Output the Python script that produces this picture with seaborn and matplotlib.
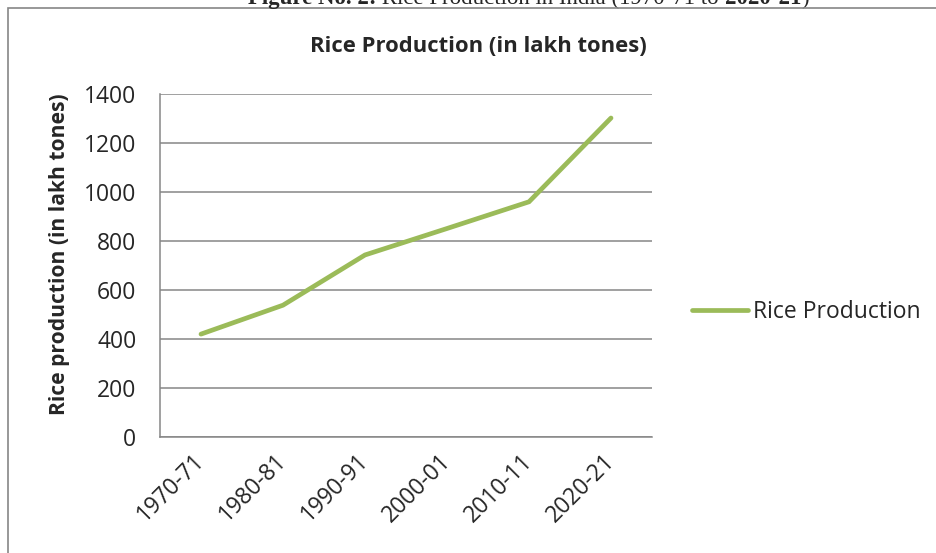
import matplotlib
matplotlib.use("Agg")
import matplotlib.pyplot as plt
import seaborn as sns
import pandas as pd
from matplotlib.patches import Rectangle

years = ["1970-71", "1980-81", "1990-91", "2000-01", "2010-11", "2020-21"]
production = [420, 538, 743, 851, 960, 1302]
series_name = "Rice Production"
y_ticks = [0, 200, 400, 600, 800, 1000, 1200, 1400]

df = pd.DataFrame({"Year": years, "Production": production, "Series": series_name})

sns.set_style("white")
plt.rcParams["font.family"] = ["Open Sans", "DejaVu Sans"]

W, H = 936, 553
fig = plt.figure(figsize=(W / 100, H / 100), dpi=100)
ax = fig.add_axes([160 / W, (H - 437) / H, 492 / W, (437 - 94) / H])

GRAY = "#868686"
GREEN = "#9BBB59"

sns.lineplot(data=df, x="Year", y="Production", hue="Series", palette=[GREEN],
             linewidth=3.4, ax=ax, sort=False)
for ln in ax.get_lines():
    ln.set_solid_capstyle("round")
    ln.set_solid_joinstyle("miter")

ax.set_xlim(-0.5, len(years) - 0.5)
ax.set_ylim(0, 1400)
ax.set_yticks(y_ticks)
ax.set_yticklabels([str(v) for v in y_ticks], fontsize=16.5)
ax.set_xticks(range(len(years)))
ax.set_xticklabels(years, fontsize=16.5, rotation=45, ha="right", va="center",
                   rotation_mode="anchor")
ax.tick_params(axis="x", length=0, pad=15)
ax.tick_params(axis="y", length=0, pad=17)
ax.yaxis.grid(True, color=GRAY, linewidth=1.1)
ax.xaxis.grid(False)
for s in ["top", "right"]:
    ax.spines[s].set_visible(False)
for s in ["left", "bottom"]:
    ax.spines[s].set_color(GRAY)
    ax.spines[s].set_linewidth(1.1)
ax.set_xlabel("")
ax.set_ylabel("Rice production (in lakh tones)", fontsize=15.1, fontweight="bold")
ax.yaxis.set_label_coords(60 / W, (H - 254) / H, transform=fig.transFigure)
ax.yaxis.label.set_verticalalignment("center")

fig.text(478 / W, (H - 46) / H, "Rice Production (in lakh tones)", fontsize=15.8,
         fontweight="bold", ha="center", va="center")

leg = ax.legend(loc="center left", bbox_to_anchor=(692 / W, (H - 312) / H),
                bbox_transform=fig.transFigure, frameon=False, fontsize=16.5,
                handlelength=2.45, handletextpad=0.2, borderpad=0, borderaxespad=0)
for h in leg.get_lines():
    h.set_linewidth(3.4)
    h.set_solid_capstyle("round")

# outer chart border (clipped at right and bottom)
fig.patches.append(Rectangle((8 / W, -0.05), 1.0, (H - 8) / H + 0.05,
                             transform=fig.transFigure, fill=False,
                             edgecolor=GRAY, linewidth=1.2))

# clipped caption above the chart
serif = ["Liberation Serif", "DejaVu Serif"]
t1 = fig.text(248 / W, (H - 4) / H, "Figure No. 2:", fontsize=16.5, fontweight="bold",
              family=serif, ha="left", va="baseline")
t2 = ax.annotate(" Rice Production in India (1970-71 to ", xy=(1, 0), xycoords=t1,
                 fontsize=16.5, family=serif, ha="left", va="bottom", annotation_clip=False)
t3 = ax.annotate("2020-21", xy=(1, 0), xycoords=t2, fontsize=16.5, family=serif,
                 fontweight="bold", ha="left", va="bottom", annotation_clip=False)
ax.annotate(")", xy=(1, 0), xycoords=t3, fontsize=16.5, family=serif,
            ha="left", va="bottom", annotation_clip=False)

fig.savefig("out.png", dpi=100)
